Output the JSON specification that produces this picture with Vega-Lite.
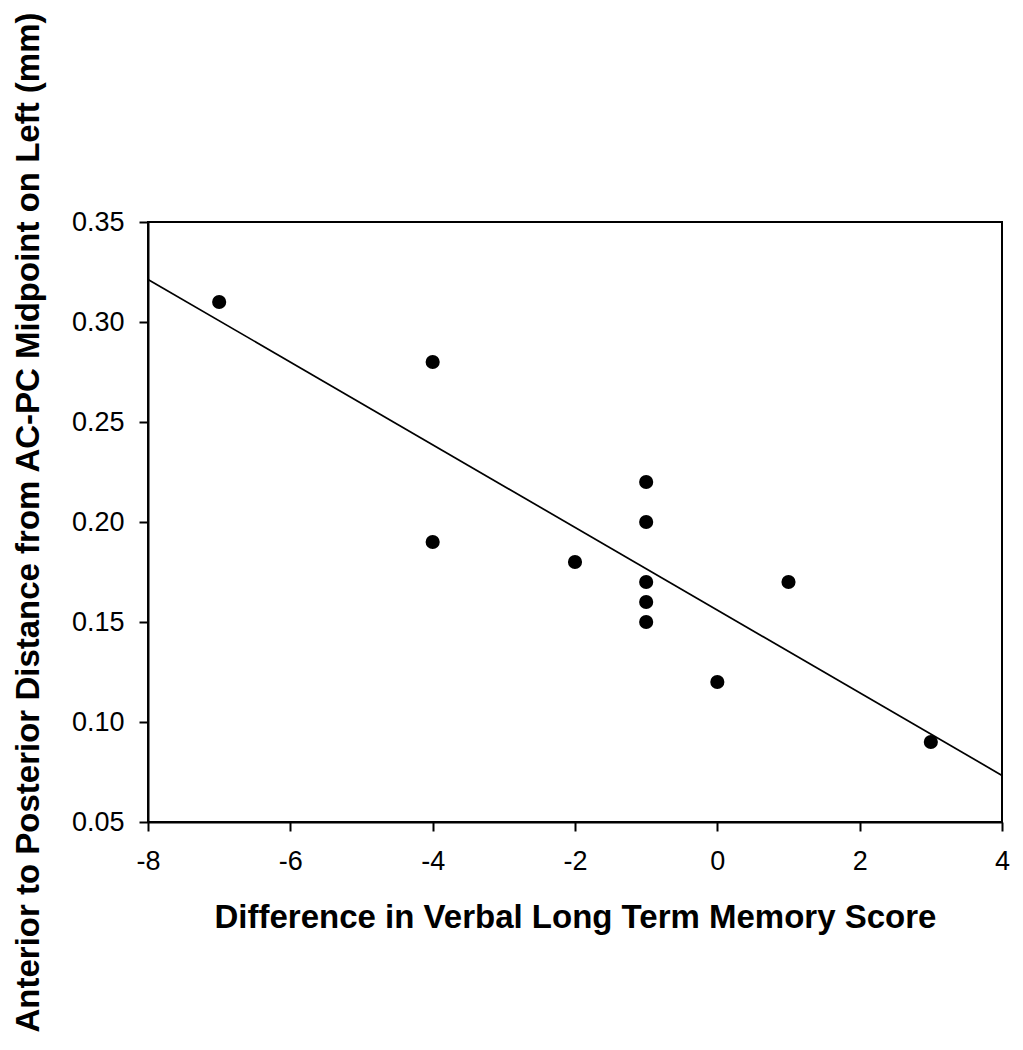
{
  "$schema": "https://vega.github.io/schema/vega-lite/v6.json",
  "autosize": "none",
  "width": 854,
  "height": 600,
  "padding": {"left": 148, "top": 222, "right": 21, "bottom": 228},
  "background": "white",
  "config": {
    "font": "Liberation Sans",
    "view": {"stroke": "black", "strokeWidth": 2},
    "axis": {
      "grid": false,
      "labelFlush": false,
      "domainColor": "black",
      "domainWidth": 2,
      "tickColor": "black",
      "tickWidth": 2,
      "tickSize": 9,
      "labelFont": "Liberation Sans",
      "labelFontSize": 27,
      "labelColor": "black",
      "titleFont": "Liberation Sans",
      "titleFontWeight": "bold",
      "titleColor": "black"
    }
  },
  "datasets": {
    "points": [
      {"diff": -7, "dist": 0.31},
      {"diff": -4, "dist": 0.28},
      {"diff": -4, "dist": 0.19},
      {"diff": -2, "dist": 0.18},
      {"diff": -1, "dist": 0.22},
      {"diff": -1, "dist": 0.20},
      {"diff": -1, "dist": 0.17},
      {"diff": -1, "dist": 0.16},
      {"diff": -1, "dist": 0.15},
      {"diff": 0, "dist": 0.12},
      {"diff": 1, "dist": 0.17},
      {"diff": 3, "dist": 0.09}
    ],
    "fit": [
      {"diff": -8, "dist": 0.3213},
      {"diff": 4, "dist": 0.0733}
    ]
  },
  "layer": [
    {
      "data": {"name": "fit"},
      "mark": {"type": "line", "color": "black", "strokeWidth": 1.7},
      "encoding": {
        "x": {"field": "diff", "type": "quantitative"},
        "y": {"field": "dist", "type": "quantitative"}
      }
    },
    {
      "data": {"name": "points"},
      "mark": {"type": "circle", "color": "black", "opacity": 1, "size": 200},
      "encoding": {
        "x": {
          "field": "diff",
          "type": "quantitative",
          "scale": {"domain": [-8, 4], "nice": false, "zero": false},
          "axis": {
            "title": "Difference in Verbal Long Term Memory Score",
            "values": [-8, -6, -4, -2, 0, 2, 4],
            "labelExpr": "datum.value + ''",
            "labelFlush": false,
            "labelPadding": 17,
            "titleFontSize": 33,
            "titlePadding": 27
          }
        },
        "y": {
          "field": "dist",
          "type": "quantitative",
          "scale": {"domain": [0.05, 0.35], "nice": false, "zero": false},
          "axis": {
            "title": "Anterior to Posterior Distance from AC-PC Midpoint on Left (mm)",
            "values": [0.05, 0.10, 0.15, 0.20, 0.25, 0.30, 0.35],
            "format": ".2f",
            "labelFlush": false,
            "labelPadding": 15,
            "titleFontSize": 33,
            "titlePadding": 26
          }
        }
      }
    }
  ]
}
